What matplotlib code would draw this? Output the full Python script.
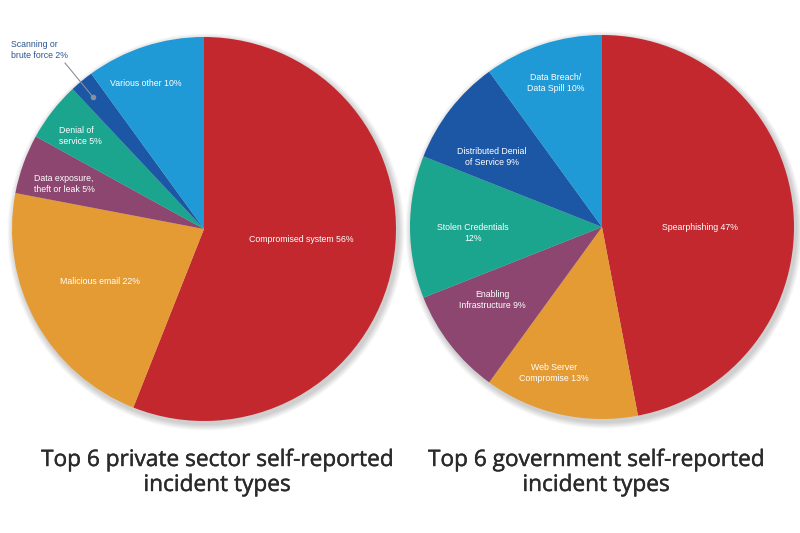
import numpy as np
import matplotlib.pyplot as plt
import matplotlib.patheffects as pe

# private sector incident types (clockwise from top)
private_labels = ["Compromised system 56%", "Malicious email 22%",
                  "Data exposure,\ntheft or leak 5%", "Denial of\nservice 5%",
                  "Scanning or\nbrute force 2%", "Various other 10%"]
private_values = [56, 22, 5, 5, 2, 10]

# government incident types (clockwise from top)
gov_labels = ["Spearphishing 47%", "Web Server\nCompromise 13%",
              "Enabling\nInfrastructure 9%", "Stolen Credentials\n12%",
              "Distributed Denial\nof Service 9%", "Data Breach/\nData Spill 10%"]
gov_values = [47, 13, 9, 12, 9, 10]

colors = ["#c4282f", "#e49b34", "#8c4670", "#1ba58f", "#1c57a6", "#1f9ad6"]

W, H = 800, 533
fig = plt.figure(figsize=(8, 5.33), dpi=100)
ax = fig.add_axes([0, 0, 1, 1])

def draw_pie(values, cx, cy, r):
    # soft shadow below the pie
    for k in range(8):
        c = plt.Circle((cx + 2, H - cy - 3), r + 1 + k * 0.8, color="black",
                       alpha=0.025, lw=0, zorder=0)
        ax.add_patch(c)
    ax.pie(values, colors=colors, startangle=90, counterclock=False,
           center=(cx, H - cy), radius=r,
           wedgeprops=dict(linewidth=0, zorder=1))

draw_pie(private_values, 204, 229, 192)
draw_pie(gov_values, 602, 227, 192)

lab = dict(color="white", fontsize=6.3, family="Liberation Sans", linespacing=1.2, zorder=5)

# private labels (pixel positions)
ax.text(249, H - 240, private_labels[0], ha="left", va="center", **lab)
ax.text(100, H - 281, private_labels[1], ha="center", va="center", **lab)
ax.text(34, H - 184, private_labels[2], ha="left", va="center", **lab)
ax.text(59, H - 136, private_labels[3], ha="left", va="center", **lab)
ax.text(110, H - 83, private_labels[5], ha="left", va="center", **lab)
ax.text(11, H - 50, private_labels[4], ha="left", va="center", color="#2c5590",
        fontsize=6.3, family="Liberation Sans", linespacing=1.2, zorder=5)
ax.plot([65, 93], [H - 63, H - 97], color="#8a8f98", lw=0.8, zorder=4)
ax.plot([93], [H - 97], "o", color="#8a8f98", ms=3, zorder=4)

# government labels
gov_pos = [(700, 227), (554, 373), (492, 300), (473, 233), (492, 157), (556, 83)]
for text, (x, y) in zip(gov_labels, gov_pos):
    ax.text(x, H - y, text, ha="center", va="center", multialignment="center", **lab)

# titles under each pie, one line at a time
tit = dict(ha="center", va="baseline", fontsize=16.3, family="Open Sans",
           color="#2a2a2a",
           path_effects=[pe.withStroke(linewidth=0.3, foreground="#2a2a2a")])
ax.text(217, H - 466, "Top 6 private sector self-reported", **tit)
ax.text(217, H - 491, "incident types", **tit)
ax.text(596, H - 466, "Top 6 government self-reported", **tit)
ax.text(596, H - 491, "incident types", **tit)

ax.set_xlim(0, W)
ax.set_ylim(0, H)
ax.set_aspect("auto")
ax.axis("off")

fig.savefig("out.png", dpi=100)
